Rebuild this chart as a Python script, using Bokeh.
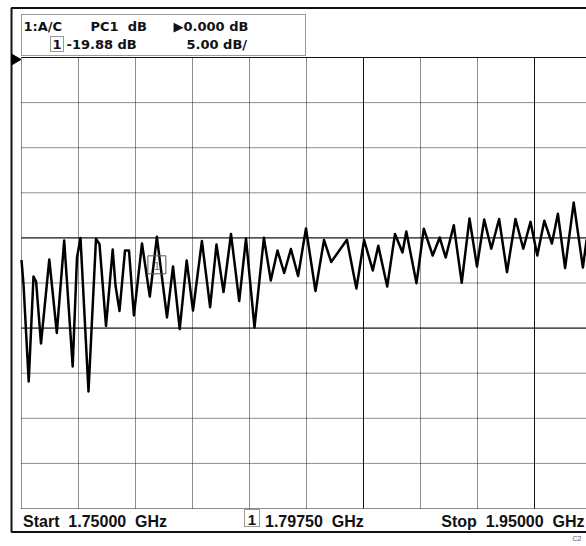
from bokeh.plotting import figure
from bokeh.models import Range1d
from bokeh.core.properties import value
from bokeh.embed import file_html
from bokeh.resources import INLINE

# Swept transmission trace, 1.75 - 1.95 GHz
freq_ghz = [1.75000, 1.75070, 1.75253, 1.75421, 1.75512, 1.75684, 1.75975, 1.76239,
            1.76498, 1.76796, 1.76947, 1.77070, 1.77351, 1.77614, 1.77737, 1.77965,
            1.78200, 1.78298, 1.78439, 1.78632, 1.78772, 1.78944, 1.79228, 1.79502,
            1.79750, 1.80105, 1.80316, 1.80551, 1.80796, 1.81018, 1.81330, 1.81618,
            1.81842, 1.82088, 1.82351, 1.82639, 1.82877, 1.83175, 1.83505, 1.83747,
            1.83982, 1.84218, 1.84453, 1.84705, 1.84982, 1.85316, 1.85614, 1.85867,
            1.86418, 1.86751, 1.87021, 1.87326, 1.87519, 1.87832, 1.88105, 1.88368,
            1.88502, 1.88860, 1.89116, 1.89428, 1.89674, 1.89884, 1.90168, 1.90446,
            1.90719, 1.90982, 1.91235, 1.91484, 1.91758, 1.92035, 1.92333, 1.92607,
            1.92860, 1.93098, 1.93344, 1.93611, 1.93821, 1.94074, 1.94375, 1.94698,
            1.94825, 1.95000]
trace_db = [-22.45, -25.11, -35.92, -24.28, -24.83, -31.71, -22.39, -30.54,
            -20.29, -34.26, -22.17, -20.01, -37.03, -20.10, -20.70, -29.77,
            -21.29, -25.28, -28.10, -21.40, -21.40, -28.60, -20.62, -26.50,
            -19.88, -28.82, -23.17, -30.10, -22.51, -28.05, -20.34, -27.68,
            -20.73, -26.00, -19.57, -27.00, -20.07, -29.93, -19.99, -24.72,
            -21.40, -23.89, -21.23, -24.22, -18.96, -25.89, -20.23, -22.67,
            -20.21, -25.61, -20.23, -23.61, -20.88, -25.39, -19.57, -21.62,
            -19.29, -25.02, -18.98, -21.95, -19.96, -22.17, -18.60, -24.97,
            -17.85, -23.17, -17.96, -21.20, -17.90, -23.80, -17.90, -21.20,
            -18.22, -21.95, -18.09, -20.62, -17.32, -23.35, -16.08, -23.28,
            -20.29, -18.90]

# Instrument settings
channel = "1:A/C"
param = "PC1  dB"
start_ghz = 1.75
stop_ghz = 1.95
ref_db = 0.0
scale_db = 5.0
n_div = 10
marker_ghz = 1.7975
marker_db = -19.88

# Canvas and graticule geometry (pixels)
W, H = 586, 546
GL, GT, GB = 21, 57, 508
GW = 570
kx = GW / (stop_ghz - start_ghz)          # px per GHz
ky = (GB - GT) / (n_div * scale_db)       # px per dB
TEXT_DY = -5                              # baseline correction for svg text

x0 = start_ghz - GL / kx
x1 = x0 + W / kx
ytop = ref_db + GT / ky
ybot = ytop - H / ky


def X(px):
    return x0 + px / kx


def Y(py):
    return ytop - py / ky


def keep_spaces(s):
    # svg collapses runs of blanks; use no-break spaces
    return s.replace(" ", "\u00a0")


p = figure(width=W, height=H, x_range=Range1d(x0, x1), y_range=Range1d(ybot, ytop),
           x_axis_type=None, y_axis_type=None, output_backend="svg",
           toolbar_location=None, min_border=0, outline_line_color=None)
p.grid.visible = False
p.background_fill_color = "white"
p.border_fill_color = "white"

bottom_db = ref_db - n_div * scale_db
step = (stop_ghz - start_ghz) / n_div
v_lines = [start_ghz + k * step for k in range(n_div + 1)]
h_lines = [ref_db - k * scale_db for k in range(n_div + 1)]

# dotted graticule
p.segment(x0=v_lines, y0=[bottom_db] * len(v_lines), x1=v_lines, y1=[ref_db] * len(v_lines),
          line_color="#1e1e1e", line_width=1, line_dash="1 1")
p.segment(x0=[start_ghz] * len(h_lines), y0=h_lines, x1=[stop_ghz] * len(h_lines), y1=h_lines,
          line_color="#1e1e1e", line_width=1, line_dash="1 1")

# darker, continuous lines
solid_v = [v_lines[6], v_lines[9]]
p.segment(x0=solid_v, y0=[bottom_db] * 2, x1=solid_v, y1=[ref_db] * 2,
          line_color="#111111", line_width=1)
solid_h = [ref_db, ref_db - 4 * scale_db, ref_db - 6 * scale_db]
p.segment(x0=[start_ghz] * 3, y0=solid_h, x1=[stop_ghz] * 3, y1=solid_h,
          line_color="#111111", line_width=1)

# outer frame of the display
p.line([X(W + 5), X(11), X(11), X(W + 5)], [Y(7.5), Y(7.5), Y(531.5), Y(531.5)],
       line_color="#111111", line_width=2)

# reference-level pointer
p.patch([X(11), X(20.5), X(11)], [Y(53.5), Y(59), Y(64.5)],
        fill_color="black", line_color="black")

# measurement trace
p.line(freq_ghz, trace_db, line_color="black", line_width=2.5, line_join="round")

# marker flag under the marked point
p.quad(left=[marker_ghz - 9 / kx], right=[marker_ghz + 9 / kx],
       top=[marker_db - 19 / ky], bottom=[marker_db - 37 / ky],
       fill_color=None, line_color="#555555", line_width=1)
p.text(x=[marker_ghz], y=[marker_db - (34 + TEXT_DY) / ky], text=["1"], text_align="center",
       text_baseline="alphabetic", text_font=value("DejaVu Sans"),
       text_font_size="11px", text_color="#777777")


def txt(px, py, s, size, font, bold=True, align="left", color="#111111"):
    p.text(x=[X(px)], y=[Y(py + TEXT_DY)], text=[keep_spaces(s)], text_align=align,
           text_baseline="alphabetic", text_font=value(font), text_font_size=size,
           text_font_style="bold" if bold else "normal", text_color=color)


# annotation header
p.quad(left=[X(21)], right=[X(305)], top=[Y(14)], bottom=[Y(55)],
       fill_color=None, line_color="#333333", line_width=1, line_dash="1 1")
HF = "DejaVu Sans"
txt(23, 30.5, channel, "13px", HF)
txt(90, 30.5, param, "13px", HF)
txt(173, 30.5, f"\u25b6{ref_db:.3f} dB", "13px", HF)
p.quad(left=[X(50)], right=[X(63)], top=[Y(36)], bottom=[Y(51)],
       fill_color=None, line_color="#333333", line_width=1, line_dash="1 1")
txt(56.5, 48.5, "1", "13px", HF, align="center")
txt(66, 48.5, f"{marker_db:.2f} dB", "13px", HF)
txt(186, 48.5, f"{scale_db:.2f} dB/", "13px", HF)

# frequency annotation footer
FF = "Liberation Sans"
txt(22.5, 525.5, f"Start  {start_ghz:.5f}  GHz", "16px", FF)
p.quad(left=[X(244)], right=[X(259)], top=[Y(509)], bottom=[Y(526)],
       fill_color=None, line_color="#333333", line_width=1, line_dash="1 1")
txt(251.5, 524, "1", "15px", FF, align="center")
txt(264.5, 525.5, f"{marker_ghz:.5f}  GHz", "16px", FF)
txt(584, 525.5, f"Stop  {stop_ghz:.5f}  GHz", "16px", FF, align="right")
txt(572, 543, "C2", "7px", FF, bold=False, color="#555555")

open("out.html", "w").write(file_html(p, INLINE))
